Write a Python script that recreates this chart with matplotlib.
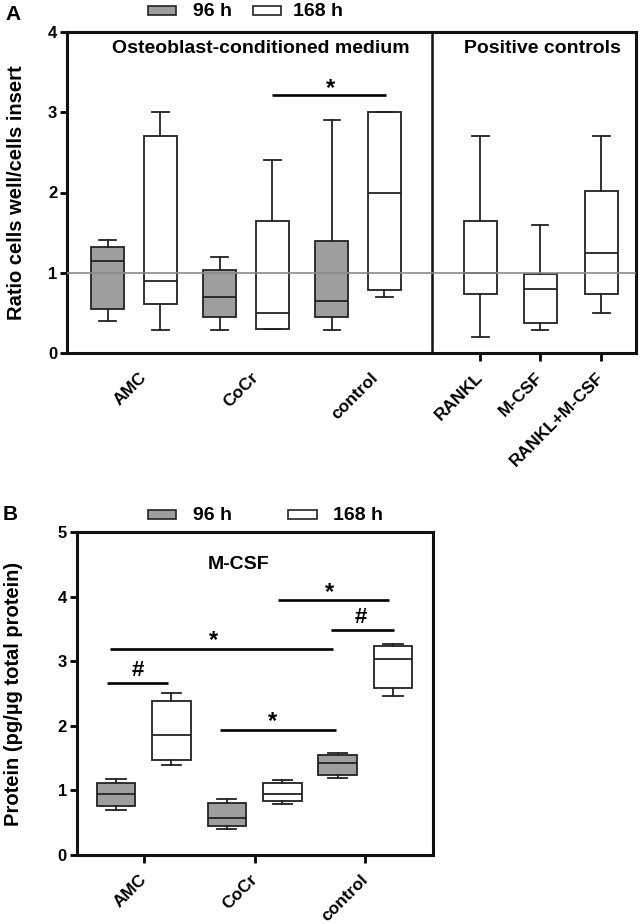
import matplotlib
matplotlib.use("Agg")
import matplotlib.pyplot as plt
from matplotlib.patches import Rectangle

plt.rcParams['font.family'] = ['Liberation Sans', 'DejaVu Sans']
plt.rcParams['font.weight'] = 'bold'

# ---------------- data: panel A ----------------
a_groups = ["AMC", "CoCr", "control"]
a_controls = ["RANKL", "M-CSF", "RANKL+M-CSF"]
# five-number summaries: (whislo, q1, med, q3, whishi)
a_96h = [(0.40, 0.55, 1.15, 1.32, 1.41),
         (0.29, 0.45, 0.70, 1.04, 1.20),
         (0.29, 0.45, 0.65, 1.40, 2.90)]
a_168h = [(0.29, 0.61, 0.90, 2.70, 3.00),
          (0.30, 0.30, 0.50, 1.65, 2.40),
          (0.70, 0.78, 2.00, 3.00, 3.00)]
a_ctrl = [(0.20, 0.73, 1.00, 1.65, 2.70),
          (0.29, 0.38, 0.80, 0.99, 1.60),
          (0.50, 0.73, 1.25, 2.02, 2.70)]
a_yticks = [0, 1, 2, 3, 4]
a_ref = 1.0

# ---------------- data: panel B ----------------
b_groups = ["AMC", "CoCr", "control"]
b_96h = [(0.70, 0.76, 0.945, 1.11, 1.18),
         (0.41, 0.455, 0.57, 0.80, 0.86),
         (1.19, 1.24, 1.42, 1.545, 1.575)]
b_168h = [(1.40, 1.47, 1.86, 2.39, 2.505),
          (0.79, 0.83, 0.945, 1.11, 1.16),
          (2.46, 2.58, 3.04, 3.23, 3.26)]
b_yticks = [0, 1, 2, 3, 4, 5]

legend_labels = ["96 h", "168 h"]

GRAY = '#9e9e9e'
EDGE = '#222222'
W, H = 641, 924
fig = plt.figure(figsize=(W / 100, H / 100), dpi=100)


def fax(l, t, r, b):
    return fig.add_axes([l / W, 1 - b / H, (r - l) / W, (b - t) / H])


def stats(v):
    lo, q1, med, q3, hi = v
    return dict(whislo=lo, q1=q1, med=med, q3=q3, whishi=hi, fliers=[])


def draw_boxes(ax, data, pos, width, color):
    ax.bxp([stats(v) for v in data], positions=pos, widths=width,
           showfliers=False, patch_artist=True, manage_ticks=False,
           boxprops=dict(facecolor=color, edgecolor=EDGE, linewidth=1.3),
           medianprops=dict(color=EDGE, linewidth=1.3),
           whiskerprops=dict(color=EDGE, linewidth=1.3),
           capprops=dict(color=EDGE, linewidth=1.3))


def style_axes(ax):
    for s in ax.spines.values():
        s.set_linewidth(2.2)
        s.set_color('#111111')
    ax.tick_params(axis='y', direction='out', length=5, width=2, labelsize=12, pad=2)
    ax.tick_params(axis='x', direction='out', length=6, width=2, labelsize=12.5, pad=10)
    for lab in ax.get_xticklabels():
        lab.set_rotation(45)
        lab.set_rotation_mode('anchor')
        lab.set_ha('right')
        lab.set_va('center')


def sig(ax, x0, x1, y, txt, tx, ty):
    ax.plot([x0, x1], [y, y], color='black', lw=1.9, solid_capstyle='butt')
    ax.text(tx, ty, txt, ha='center', va='center',
            fontsize=17 if txt == '*' else 16, fontweight='bold')


# ================= Panel A =================
axA = fax(67, 32, 636, 353)
grp = [1, 3, 5]
off = 0.47
wA = 0.59
draw_boxes(axA, a_96h, [g - off for g in grp], wA, GRAY)
draw_boxes(axA, a_168h, [g + off for g in grp], wA, 'white')
ctrl_pos = [7.18, 8.25, 9.34]
draw_boxes(axA, a_ctrl, ctrl_pos, wA, 'white')
axA.axhline(a_ref, color='#8a8a8a', lw=1.2, zorder=5)
axA.axvline(6.32, color='#111111', lw=1.8)
axA.set_xlim(-0.196, 9.96)
axA.set_ylim(0, 4)
axA.set_yticks(a_yticks)
axA.set_yticklabels([str(t) for t in a_yticks], fontweight='bold')
a_tickpos = [1.18, 3.18, 5.32] + ctrl_pos
axA.set_xticks(a_tickpos)
axA.set_xticklabels(a_groups + a_controls, fontweight='bold')
style_axes(axA)
for t in axA.xaxis.get_major_ticks()[:3]:
    t.tick1line.set_visible(False)
axA.set_ylabel("Ratio cells well/cells insert", fontsize=14.5, fontweight='bold')
axA.yaxis.set_label_coords(-0.072, 0.5)
axA.text(3.27, 3.80, "Osteoblast-conditioned medium", ha='center', va='center',
         fontsize=14, fontweight='bold')
axA.text(8.29, 3.80, "Positive controls", ha='center', va='center',
         fontsize=14, fontweight='bold')
sig(axA, 3.46, 5.5, 3.22, '*', 4.5, 3.30)

# ================= Panel B =================
axB = fax(76.7, 532, 433, 855)
offB = 0.5
wB = 0.695
draw_boxes(axB, b_96h, [g - offB for g in grp], wB, GRAY)
draw_boxes(axB, b_168h, [g + offB for g in grp], wB, 'white')
axB.set_xlim(-0.21, 6.22)
axB.set_ylim(0, 5)
axB.set_yticks(b_yticks)
axB.set_yticklabels([str(t) for t in b_yticks], fontweight='bold')
axB.set_xticks(grp)
axB.set_xticklabels(b_groups, fontweight='bold')
style_axes(axB)
axB.set_ylabel("Protein (pg/µg total protein)", fontsize=14.5, fontweight='bold')
axB.yaxis.set_label_coords(-0.151, 0.5)
axB.text(2.72, 4.50, "M-CSF", ha='center', va='center', fontsize=14,
         fontweight='bold')
sig(axB, 0.34, 1.44, 2.66, '#', 0.90, 2.85)
sig(axB, 0.39, 4.42, 3.19, '*', 2.25, 3.32)
sig(axB, 2.38, 4.47, 1.94, '*', 3.33, 2.07)
sig(axB, 3.42, 5.43, 3.94, '*', 4.36, 4.07)
sig(axB, 4.38, 5.52, 3.49, '#', 4.92, 3.67)


# ================= legends & panel letters =================
def draw_legend(yc, items):
    for (x0, x1, tx), col, lab in zip(items, [GRAY, 'white'], legend_labels):
        fig.add_artist(Rectangle((x0 / W, 1 - (yc + 4.5) / H), (x1 - x0) / W, 9 / H,
                                 transform=fig.transFigure, facecolor=col,
                                 edgecolor=EDGE, lw=1.2))
        fig.text(tx / W, 1 - (yc + 1) / H, lab, ha='left', va='center',
                 fontsize=14, fontweight='bold')


draw_legend(10, [(148, 176, 193), (253, 281, 293)])
draw_legend(514, [(148, 176, 193), (288, 317, 333)])
fig.text(5 / W, 1 - 14 / H, "A", ha='left', va='center', fontsize=15, fontweight='bold')
fig.text(3 / W, 1 - 514 / H, "B", ha='left', va='center', fontsize=15, fontweight='bold')

fig.savefig("out.png", dpi=100)
